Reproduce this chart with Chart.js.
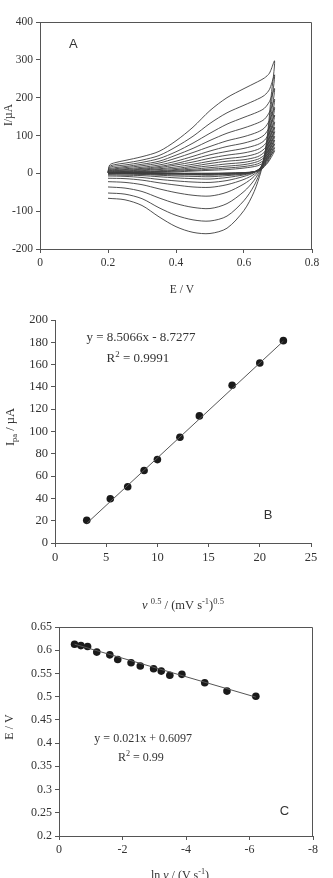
<!DOCTYPE html>
<html><head><meta charset="utf-8">
<script src="https://cdn.jsdelivr.net/npm/chart.js@4/dist/chart.umd.min.js"></script>
<style>
html,body{margin:0;padding:0;background:#fff;width:333px;height:878px;overflow:hidden}
canvas{position:absolute;left:0}
</style></head><body>
<canvas id="cA" width="333" height="300" style="top:0px;width:333px;height:300px"></canvas>
<canvas id="cB" width="333" height="312" style="top:300px;width:333px;height:312px"></canvas>
<canvas id="cC" width="333" height="266" style="top:612px;width:333px;height:266px"></canvas>
<script>
// ---------- Panel A: cyclic voltammograms ----------
const cvForwardE = [0.2, 0.205, 0.22, 0.25, 0.3, 0.35, 0.4, 0.45, 0.5, 0.55, 0.6, 0.64, 0.66, 0.675, 0.69];
const cvReverseE = [0.69, 0.68, 0.67, 0.66, 0.65, 0.63, 0.6, 0.55, 0.5, 0.45, 0.4, 0.35, 0.3, 0.25, 0.2];
const cvForwardI = [
  [4, 22, 28, 34, 44, 58, 86, 122, 166, 200, 224, 242, 252, 265, 297],
  [3, 18, 23, 27, 35, 47, 70, 98, 132, 160, 180, 196, 206, 222, 260],
  [3, 15, 19, 22, 29, 39, 57, 80, 106, 130, 148, 162, 172, 190, 224],
  [2, 12, 15, 18, 24, 32, 48, 66, 87, 106, 120, 133, 143, 162, 196],
  [2, 10, 12, 15, 20, 27, 40, 55, 71, 86, 97, 109, 120, 140, 174],
  [2, 8, 10, 12, 16, 22, 32, 45, 59, 71, 80, 91, 102, 122, 154],
  [1, 7, 8, 10, 13, 18, 26, 37, 49, 58, 66, 76, 87, 108, 136],
  [1, 5, 7, 8, 11, 15, 22, 30, 40, 48, 54, 63, 75, 95, 122],
  [1, 4, 5, 6, 9, 12, 17, 24, 32, 39, 44, 53, 65, 84, 110],
  [1, 3, 4, 5, 7, 10, 13, 19, 26, 32, 36, 44, 56, 74, 98],
  [0, 2, 3, 4, 5, 7, 10, 15, 20, 25, 29, 37, 48, 64, 88],
  [0, 2, 2, 3, 4, 5, 8, 11, 15, 19, 23, 31, 42, 56, 78],
  [0, 1, 2, 2, 3, 4, 6, 8, 11, 14, 18, 25, 36, 50, 68],
  [0, 1, 1, 2, 2, 3, 4, 6, 8, 10, 14, 20, 30, 44, 60]
];
const cvReverseI = [
  [297, 205, 110, 45, 5, -48, -98, -145, -159, -156, -141, -115, -85, -70, -66],
  [260, 180, 100, 45, 10, -32, -72, -113, -126, -123, -111, -91, -67, -55, -52],
  [224, 155, 90, 44, 14, -18, -48, -80, -93, -90, -80, -65, -48, -39, -36],
  [196, 135, 80, 42, 16, -8, -28, -50, -60, -58, -51, -41, -30, -24, -22],
  [174, 120, 72, 40, 17, -2, -16, -30, -37, -36, -31, -25, -18, -14, -13],
  [154, 106, 65, 37, 17, 2, -8, -19, -24, -23, -20, -16, -11, -8, -7],
  [136, 94, 58, 34, 16, 3, -4, -11, -15, -14, -12, -9, -6, -5, -4],
  [122, 84, 52, 31, 15, 4, -2, -6, -9, -8, -7, -5, -3, -2, -2],
  [110, 76, 47, 28, 14, 4, -1, -3, -5, -4, -4, -3, -2, -1, -1],
  [98, 68, 43, 26, 13, 4, 0, -2, -3, -3, -2, -1, -1, 0, 0],
  [88, 61, 39, 24, 12, 4, 1, -1, -2, -2, -1, -1, 0, 0, 0],
  [78, 54, 35, 22, 11, 4, 1, 0, -1, -1, 0, 0, 0, 1, 1],
  [68, 48, 31, 20, 10, 4, 2, 0, 0, 0, 0, 0, 1, 1, 1],
  [60, 42, 28, 18, 9, 4, 2, 1, 0, 0, 0, 1, 1, 1, 1]
];
const aXTicks = [0, 0.2, 0.4, 0.6, 0.8];
const aYTicks = [-200, -100, 0, 100, 200, 300, 400];

// ---------- Panel B: Ipa vs v^0.5 ----------
const bX = [3.1, 5.4, 7.1, 8.7, 10.0, 12.2, 14.1, 17.3, 20.0, 22.3];
const bY = [20.3, 39.7, 50.5, 65.0, 74.8, 94.8, 114.0, 141.5, 161.5, 181.5];
const bFitX = [3.1, 22.3];
const bFitY = [17.6, 181.0];
const bXTicks = [0, 5, 10, 15, 20, 25];
const bYTicks = [0, 20, 40, 60, 80, 100, 120, 140, 160, 180, 200];

// ---------- Panel C: E vs ln v ----------
const cX = [-0.49, -0.69, -0.90, -1.19, -1.60, -1.85, -2.27, -2.56, -2.98, -3.22, -3.49, -3.87, -4.59, -5.29, -6.20];
const cY = [0.613, 0.610, 0.608, 0.596, 0.590, 0.580, 0.573, 0.566, 0.560, 0.555, 0.546, 0.548, 0.530, 0.512, 0.501];
const cFitX = [-0.49, -6.20];
const cFitY = [0.613, 0.499];
const cXTicks = [-8, -6, -4, -2, 0];
const cYTicks = [0.2, 0.25, 0.3, 0.35, 0.4, 0.45, 0.5, 0.55, 0.6, 0.65];

// ---------- styling helpers ----------
const SERIF = '"Liberation Serif", "Times New Roman", serif';
const SANS = '"Liberation Sans", Arial, sans-serif';
const AXIS = '#555';
const TXT = '#333';
const fmt = v => String(Number(v.toFixed(2)));

function scaleCfg(ticks, min, max, fit, isX, fontSize, extra) {
  return Object.assign({
    type: 'linear', min: min, max: max,
    afterBuildTicks: s => { s.ticks = ticks.map(v => ({value: v})); },
    afterFit: s => { if (isX) s.height = fit; else s.width = fit; },
    ticks: {autoSkip: false, maxRotation: 0, padding: 3, color: TXT,
            font: {family: SERIF, size: fontSize}, callback: v => fmt(v)},
    grid: {drawOnChartArea: false, drawTicks: true, tickLength: 4, color: AXIS, lineWidth: 1},
    border: {display: true, color: AXIS, width: 1}
  }, extra || {});
}

function drawRich(ctx, chart, it) {
  const base = it.size;
  let px = it.px, py = it.py;
  if (it.xv !== undefined) px = chart.scales.x.getPixelForValue(it.xv);
  if (it.yv !== undefined) py = chart.scales.y.getPixelForValue(it.yv);
  const fam = it.family || SERIF;
  let w = 0;
  const m = it.parts.map(p => {
    const sz = p.s ? base * 0.68 : base;
    const f = (p.i ? 'italic ' : '') + sz + 'px ' + fam;
    ctx.font = f;
    const pw = ctx.measureText(p.t).width;
    w += pw;
    return {p: p, f: f, pw: pw};
  });
  ctx.save();
  ctx.translate(px, py);
  if (it.rot) ctx.rotate(it.rot);
  ctx.fillStyle = it.color || TXT;
  ctx.textAlign = 'left';
  ctx.textBaseline = 'alphabetic';
  let x = -w / 2;
  const by = base * 0.35;
  m.forEach(o => {
    ctx.font = o.f;
    let dy = 0;
    if (o.p.s === 'sup') dy = -base * 0.4;
    if (o.p.s === 'sub') dy = base * 0.22;
    ctx.fillText(o.p.t, x, by + dy);
    x += o.pw;
  });
  ctx.restore();
}

const richText = {
  id: 'richText',
  afterDraw(chart, args, opts) {
    const ctx = chart.ctx;
    const a = chart.chartArea;
    if (opts.box) {
      ctx.save();
      ctx.strokeStyle = AXIS; ctx.lineWidth = 1;
      ctx.beginPath();
      const l = Math.round(a.left) + 0.5, r = Math.round(a.right) - 0.5;
      const t = Math.round(a.top) + 0.5;
      ctx.moveTo(l, t); ctx.lineTo(r, t); ctx.lineTo(r, Math.round(a.bottom));
      ctx.stroke();
      ctx.restore();
    }
    (opts.items || []).forEach(it => drawRich(ctx, chart, it));
  }
};

const baseOpts = (padTop, padRight) => ({
  responsive: false, animation: false, devicePixelRatio: 1,
  layout: {padding: {top: padTop, right: padRight, left: 0, bottom: 0}},
  plugins: {legend: {display: false}, tooltip: {enabled: false}}
});

// ---------- Chart A ----------
const dsA = cvForwardI.map((fw, k) => ({
  data: cvForwardE.map((e, i) => ({x: e, y: fw[i]}))
        .concat(cvReverseE.slice(1).map((e, i) => ({x: e, y: cvReverseI[k][i + 1]}))),
  showLine: true, pointRadius: 0, borderColor: '#3d3d3d', borderWidth: 0.9, tension: 0.3, fill: false
}));
const optsA = baseOpts(22, 21);
optsA.scales = {
  x: scaleCfg(aXTicks, 0, 0.8, 51, true, 11.5),
  y: scaleCfg(aYTicks, -200, 400, 40, false, 11.5)
};
optsA.plugins.richText = {box: true, items: [
  {px: 182, py: 289, size: 11.5, parts: [{t: 'E / V'}]},
  {px: 8, py: 115, size: 11.5, rot: -Math.PI / 2, parts: [{t: 'I/µA'}]},
  {xv: 0.098, yv: 342, size: 13, family: SANS, parts: [{t: 'A'}]}
]};
new Chart(document.getElementById('cA'), {type: 'scatter', data: {datasets: dsA}, options: optsA, plugins: [richText]});

// ---------- Chart B ----------
const optsB = baseOpts(20, 22);
optsB.scales = {
  x: scaleCfg(bXTicks, 0, 25, 69, true, 12.5),
  y: scaleCfg(bYTicks, 0, 200, 55, false, 12.5)
};
optsB.plugins.richText = {box: false, items: [
  {px: 183, py: 305, size: 12.5, parts: [{t: 'ν', i: true}, {t: ' '}, {t: '0.5', s: 'sup'}, {t: ' / (mV s'}, {t: '-1', s: 'sup'}, {t: ')'}, {t: '0.5', s: 'sup'}]},
  {px: 10, py: 127, size: 12.5, rot: -Math.PI / 2, parts: [{t: 'I'}, {t: 'pa', s: 'sub'}, {t: ' / µA'}]},
  {xv: 8.4, yv: 185, size: 13, parts: [{t: 'y = 8.5066x - 8.7277'}]},
  {xv: 8.1, yv: 166, size: 13, parts: [{t: 'R'}, {t: '2', s: 'sup'}, {t: ' = 0.9991'}]},
  {xv: 20.8, yv: 25.4, size: 13, family: SANS, parts: [{t: 'B'}]}
]};
new Chart(document.getElementById('cB'), {type: 'scatter', data: {datasets: [
  {data: bFitX.map((x, i) => ({x: x, y: bFitY[i]})), showLine: true, pointRadius: 0, borderColor: '#555', borderWidth: 1},
  {data: bX.map((x, i) => ({x: x, y: bY[i]})), pointRadius: 3.8, pointBackgroundColor: '#1a1a1a', pointBorderWidth: 0}
]}, options: optsB, plugins: [richText]});

// ---------- Chart C ----------
const optsC = baseOpts(15, 20);
optsC.scales = {
  x: scaleCfg(cXTicks, -8, 0, 42, true, 12, {reverse: true}),
  y: scaleCfg(cYTicks, 0.2, 0.65, 59, false, 12)
};
optsC.plugins.richText = {box: true, items: [
  {px: 180, py: 263, size: 12, parts: [{t: 'ln '}, {t: 'ν', i: true}, {t: ' / (V s'}, {t: '-1', s: 'sup'}, {t: ')'}]},
  {px: 9, py: 115, size: 12, rot: -Math.PI / 2, parts: [{t: 'E / V'}]},
  {xv: -2.65, yv: 0.411, size: 12, parts: [{t: 'y = 0.021x + 0.6097'}]},
  {xv: -2.58, yv: 0.370, size: 12, parts: [{t: 'R'}, {t: '2', s: 'sup'}, {t: ' = 0.99'}]},
  {xv: -7.10, yv: 0.256, size: 13, family: SANS, parts: [{t: 'C'}]}
]};
new Chart(document.getElementById('cC'), {type: 'scatter', data: {datasets: [
  {data: cFitX.map((x, i) => ({x: x, y: cFitY[i]})), showLine: true, pointRadius: 0, borderColor: '#555', borderWidth: 1},
  {data: cX.map((x, i) => ({x: x, y: cY[i]})), pointRadius: 3.8, pointBackgroundColor: '#1a1a1a', pointBorderWidth: 0}
]}, options: optsC, plugins: [richText]});
</script>
</body></html>
